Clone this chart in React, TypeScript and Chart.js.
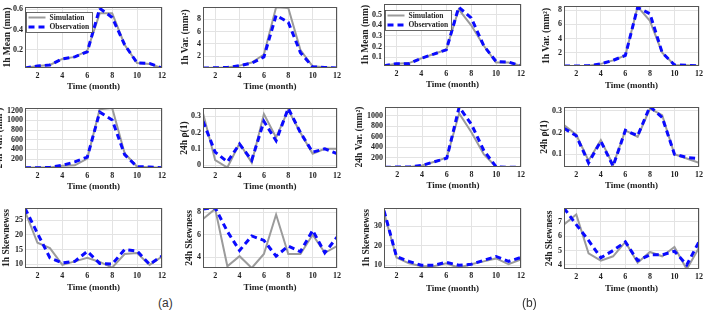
import { useEffect, useRef } from "react";
import { Chart, registerables } from "chart.js";

Chart.register(...registerables);

// Months on the x axis and the tick marks shown under each panel
const months = [1, 2, 3, 4, 5, 6, 7, 8, 9, 10, 11, 12];
const monthTicks = [2, 4, 6, 8, 10, 12];

// ---- Station (a) ----
const aMean1hSim = [0.02, 0.04, 0.05, 0.11, 0.13, 0.19, 0.56, 0.56, 0.25, 0.07, 0.06, 0.02];
const aMean1hObs = [0.02, 0.04, 0.05, 0.11, 0.13, 0.18, 0.61, 0.52, 0.25, 0.07, 0.065, 0.02];
const aVar1hSim = [0.1, 0.15, 0.2, 0.5, 1.0, 2.3, 9.9, 9.8, 3.0, 0.4, 0.25, 0.1];
const aVar1hObs = [0.1, 0.15, 0.2, 0.5, 0.9, 1.9, 8.6, 7.5, 2.6, 0.3, 0.2, 0.1];
const aVar24hSim = [20, 25, 25, 60, 70, 210, 1230, 1256, 320, 40, 30, 20];
const aVar24hObs = [20, 20, 25, 70, 140, 240, 1170, 1010, 290, 40, 35, 20];
const aRho24hSim = [0.32, 0.03, -0.015, 0.135, 0.015, 0.315, 0.17, 0.34, 0.2, 0.07, 0.1, 0.1];
const aRho24hObs = [0.27, 0.08, 0.02, 0.13, 0.03, 0.27, 0.15, 0.35, 0.2, 0.08, 0.1, 0.07];
const aSkew1hSim = [28, 17.3, 15.5, 9.8, 11, 12.2, 10.8, 8.9, 13.5, 13.8, 9.8, 12.6];
const aSkew1hObs = [29, 20.5, 12.2, 10.5, 11, 14.4, 10.3, 10.1, 15, 14.5, 10, 12.8];
const aSkew24hSim = [7.4, 8.3, 3.2, 4.1, 3.05, 4.3, 7.8, 4.3, 4.3, 6.0, 4.4, 5.0];
const aSkew24hObs = [8.3, 8.4, 6.3, 4.6, 5.9, 5.5, 4.1, 5.0, 4.5, 6.4, 4.4, 5.8];

// ---- Station (b) ----
const bMean1hSim = [0.02, 0.04, 0.045, 0.09, 0.13, 0.17, 0.55, 0.4, 0.21, 0.05, 0.05, 0.02];
const bMean1hObs = [0.02, 0.04, 0.04, 0.09, 0.13, 0.17, 0.57, 0.47, 0.21, 0.06, 0.055, 0.02];
const bVar1hSim = [0.1, 0.1, 0.15, 0.4, 0.9, 1.6, 8.5, 6.5, 2.0, 0.25, 0.2, 0.1];
const bVar1hObs = [0.1, 0.1, 0.15, 0.4, 0.9, 1.6, 8.4, 7.5, 2.0, 0.25, 0.2, 0.1];
const bVar24hSim = [15, 20, 20, 50, 120, 200, 1045, 680, 260, 20, 15, 15];
const bVar24hObs = [15, 20, 20, 50, 120, 190, 1166, 830, 330, 20, 15, 15];
const bRho24hSim = [0.235, 0.19, 0.07, 0.165, 0.05, 0.21, 0.18, 0.31, 0.28, 0.1, 0.08, 0.06];
const bRho24hObs = [0.22, 0.185, 0.06, 0.16, 0.045, 0.21, 0.185, 0.32, 0.27, 0.1, 0.085, 0.08];
const bSkew1hSim = [37, 14, 11, 9.5, 9.5, 11, 8.7, 10.5, 12, 13.5, 10.5, 13];
const bSkew1hObs = [38, 14.5, 12, 10, 10, 11.5, 10, 10.5, 12.5, 14.5, 12, 14];
const bSkew24hSim = [6.8, 7.5, 4.8, 4.3, 4.6, 5.6, 4.15, 4.9, 4.6, 5.25, 3.7, 5.2];
const bSkew24hObs = [7.95, 6.8, 5.7, 4.5, 5.0, 5.6, 4.3, 4.7, 4.7, 4.95, 4.0, 5.6];

// Y tick labels
const ticksMean1hA = [0.2, 0.4, 0.6];
const ticksMean1hB = [0.1, 0.2, 0.3, 0.4, 0.5];
const ticksVar1h = [2, 4, 6, 8];
const ticksVar24hA = [200, 400, 600, 800, 1000, 1200];
const ticksVar24hB = [200, 400, 600, 800, 1000];
const ticksRhoA = [0, 0.1, 0.2, 0.3];
const ticksRhoB = [0.1, 0.2, 0.3];
const ticksSkew1hA = [10, 15, 20, 25];
const ticksSkew1hB = [10, 20, 30];
const ticksSkew24hA = [4, 6, 8];
const ticksSkew24hB = [4, 5, 6, 7];

const SIM_COLOR = "#9b9b9b";
const OBS_COLOR = "#0a0aff";
const TEXT_COLOR = "#222222";
const GRID_COLOR = "#e3e3e3";
const SERIF = "'Liberation Serif', 'Times New Roman', serif";

type PanelSpec = {
  ylabel: string;
  sim: number[];
  obs: number[];
  yMin: number;
  yMax: number;
  yTicks: number[];
  // plot box: left, top, right, bottom
  box: [number, number, number, number];
  ylabelX: number;
  xlabelY: number;
  legend?: boolean;
  legendDy?: number;
};

const panels: PanelSpec[] = [
  // row 1
  { ylabel: "1h Mean (mm)", sim: aMean1hSim, obs: aMean1hObs, yMin: 0.02, yMax: 0.623, yTicks: ticksMean1hA, box: [25, 7, 163, 68], ylabelX: 7.5, xlabelY: 87, legend: true, legendDy: 5 },
  { ylabel: "1h Var. (mm\u00b2)", sim: aVar1hSim, obs: aVar1hObs, yMin: 0.12, yMax: 9.95, yTicks: ticksVar1h, box: [203, 7, 338, 68], ylabelX: 186, xlabelY: 87 },
  { ylabel: "1h Mean (mm)", sim: bMean1hSim, obs: bMean1hObs, yMin: 0.018, yMax: 0.6, yTicks: ticksMean1hB, box: [384, 4, 522, 66], ylabelX: 366, xlabelY: 85, legend: true, legendDy: 6 },
  { ylabel: "1h Var. (mm\u00b2)", sim: bVar1hSim, obs: bVar1hObs, yMin: 0.1, yMax: 8.6, yTicks: ticksVar1h, box: [564, 6, 700, 66], ylabelX: 547, xlabelY: 86 },
  // row 2
  { ylabel: "24h Var. (mm\u00b2)", sim: aVar24hSim, obs: aVar24hObs, yMin: 14, yMax: 1256, yTicks: ticksVar24hA, box: [25, 108, 163, 168], ylabelX: 0, xlabelY: 187 },
  { ylabel: "24h \u03c1(1)", sim: aRho24hSim, obs: aRho24hObs, yMin: -0.018, yMax: 0.352, yTicks: ticksRhoA, box: [203, 108, 338, 168], ylabelX: 185, xlabelY: 187 },
  { ylabel: "24h Var. (mm\u00b2)", sim: bVar24hSim, obs: bVar24hObs, yMin: 20, yMax: 1166, yTicks: ticksVar24hB, box: [385, 107, 522, 167], ylabelX: 360, xlabelY: 186 },
  { ylabel: "24h \u03c1(1)", sim: bRho24hSim, obs: bRho24hObs, yMin: 0.041, yMax: 0.318, yTicks: ticksRhoB, box: [564, 107, 700, 167], ylabelX: 545, xlabelY: 186 },
  // row 3
  { ylabel: "1h Skewnewss", sim: aSkew1hSim, obs: aSkew1hObs, yMin: 8.75, yMax: 29.1, yTicks: ticksSkew1hA, box: [25, 208, 163, 268], ylabelX: 7, xlabelY: 288 },
  { ylabel: "24h Skewness", sim: aSkew24hSim, obs: aSkew24hObs, yMin: 3.05, yMax: 8.38, yTicks: ticksSkew24hA, box: [203, 208, 338, 268], ylabelX: 190, xlabelY: 288 },
  { ylabel: "1h Skewnewss", sim: bSkew1hSim, obs: bSkew1hObs, yMin: 8.6, yMax: 39.3, yTicks: ticksSkew1hB, box: [384, 208, 522, 268], ylabelX: 367, xlabelY: 289 },
  { ylabel: "24h Skewness", sim: bSkew24hSim, obs: bSkew24hObs, yMin: 3.72, yMax: 7.95, yTicks: ticksSkew24hB, box: [564, 208, 700, 269], ylabelX: 550, xlabelY: 289 },
];

// Dark frame around the plotting area
const framePlugin = {
  id: "frame",
  afterDatasetsDraw(chart: any) {
    const { ctx, chartArea } = chart;
    const l = Math.round(chartArea.left) + 0.5;
    const t = Math.round(chartArea.top) + 0.5;
    const r = Math.round(chartArea.right) - 0.5;
    const b = Math.round(chartArea.bottom) - 0.5;
    ctx.save();
    ctx.strokeStyle = "#555555";
    ctx.lineWidth = 1;
    ctx.strokeRect(l, t, r - l, b - t);
    ctx.restore();
  },
};

// Legend box drawn inside the top-left corner of the plot
const boxLegendPlugin = {
  id: "boxLegend",
  afterDatasetsDraw(chart: any, _args: any, opts: any) {
    if (!opts || !opts.show) return;
    const { ctx, chartArea } = chart;
    const x = Math.round(chartArea.left) + 1.5;
    const y = Math.round(chartArea.top + (opts.dy || 5)) + 0.5;
    const w = 66;
    const h = 20;
    ctx.save();
    ctx.fillStyle = "#ffffff";
    ctx.fillRect(x, y, w, h);
    ctx.strokeStyle = "#444444";
    ctx.lineWidth = 0.8;
    ctx.strokeRect(x, y, w, h);
    const items = [chart.data.datasets[0], chart.data.datasets[1]];
    items.forEach((ds: any, i: number) => {
      const cy = y + 5 + i * 9.5;
      ctx.beginPath();
      ctx.strokeStyle = ds.borderColor;
      ctx.lineWidth = ds.borderWidth;
      ctx.setLineDash(ds.borderDash || []);
      ctx.moveTo(x + 2, cy);
      ctx.lineTo(x + 19, cy);
      ctx.stroke();
      ctx.setLineDash([]);
      ctx.fillStyle = TEXT_COLOR;
      ctx.font = `bold 7.5px ${SERIF}`;
      ctx.textBaseline = "middle";
      ctx.textAlign = "left";
      ctx.fillText(ds.label, x + 23, cy + 0.5);
    });
    ctx.restore();
  },
};

function Panel({ p }: { p: PanelSpec }) {
  const ref = useRef<HTMLCanvasElement>(null);
  const [bl, bt, br, bb] = p.box;
  const left = Math.round(p.ylabelX - 8);
  const top = bt - 8;
  const right = br + 6;
  const bottom = Math.round(p.xlabelY + 8);
  const w = right - left;
  const h = bottom - top;

  useEffect(() => {
    const canvas = ref.current;
    if (!canvas) return;
    const tickFont = { family: SERIF, size: 8, weight: "bold" as const };
    const chart = new Chart(canvas, {
      type: "line",
      data: {
        datasets: [
          {
            label: "Simulation",
            data: months.map((m, i) => ({ x: m, y: p.sim[i] })),
            borderColor: SIM_COLOR,
            borderWidth: 2,
            pointRadius: 0,
            tension: 0,
            order: 1,
          },
          {
            label: "Observation",
            data: months.map((m, i) => ({ x: m, y: p.obs[i] })),
            borderColor: OBS_COLOR,
            borderWidth: 3,
            borderDash: [6, 4],
            pointRadius: 0,
            tension: 0,
            order: 0,
          },
        ],
      },
      options: {
        animation: false,
        responsive: false,
        devicePixelRatio: 1,
        events: [],
        layout: { padding: { left: 0, top: 8, right: 6, bottom: 0 } },
        plugins: {
          legend: { display: false },
          tooltip: { enabled: false },
          // @ts-ignore custom plugin options
          boxLegend: { show: !!p.legend, dy: p.legendDy },
        },
        scales: {
          x: {
            type: "linear",
            min: 1,
            max: 12,
            afterBuildTicks: (s: any) => {
              s.ticks = monthTicks.map((v) => ({ value: v }));
            },
            afterFit: (s: any) => {
              s.height = bottom - bb;
            },
            grid: { color: GRID_COLOR, drawTicks: false, lineWidth: 1 },
            border: { display: false },
            ticks: {
              padding: 3,
              font: tickFont,
              color: TEXT_COLOR,
              maxRotation: 0,
              autoSkip: false,
              callback: (v: any) => String(v),
            },
            title: {
              display: true,
              text: "Time (month)",
              color: TEXT_COLOR,
              font: { family: SERIF, size: 9, weight: "bold" },
              padding: { top: 0, bottom: 2.6 },
            },
          },
          y: {
            type: "linear",
            min: p.yMin,
            max: p.yMax,
            afterBuildTicks: (s: any) => {
              s.ticks = p.yTicks.map((v) => ({ value: v }));
            },
            afterFit: (s: any) => {
              s.width = bl - left;
            },
            grid: { color: GRID_COLOR, drawTicks: false, lineWidth: 1 },
            border: { display: false },
            ticks: {
              padding: 2,
              font: tickFont,
              color: TEXT_COLOR,
              autoSkip: false,
              callback: (v: any) => String(v),
            },
            title: {
              display: true,
              text: p.ylabel,
              color: TEXT_COLOR,
              font: { family: SERIF, size: 9.5, weight: "bold" },
              padding: { top: 8 - 0.6 * 9.5 + (p.ylabelX - 8 - left), bottom: 0 },
            },
          },
        },
      },
      plugins: [framePlugin, boxLegendPlugin],
    });
    return () => chart.destroy();
  }, []);

  return (
    <canvas
      ref={ref}
      width={w}
      height={h}
      style={{ position: "absolute", left, top, width: w, height: h }}
    />
  );
}

export default function App() {
  return (
    <div
      style={{
        position: "absolute",
        left: 0,
        top: 0,
        width: 708,
        height: 312,
        overflow: "hidden",
        background: "#ffffff",
      }}
    >
      {panels.map((p, i) => (
        <Panel key={i} p={p} />
      ))}
      <div style={{ position: "absolute", left: 158, top: 296, font: "12px 'Liberation Sans', Arial, sans-serif", color: "#333" }}>(a)</div>
      <div style={{ position: "absolute", left: 522, top: 296, font: "12px 'Liberation Sans', Arial, sans-serif", color: "#333" }}>(b)</div>
    </div>
  );
}
